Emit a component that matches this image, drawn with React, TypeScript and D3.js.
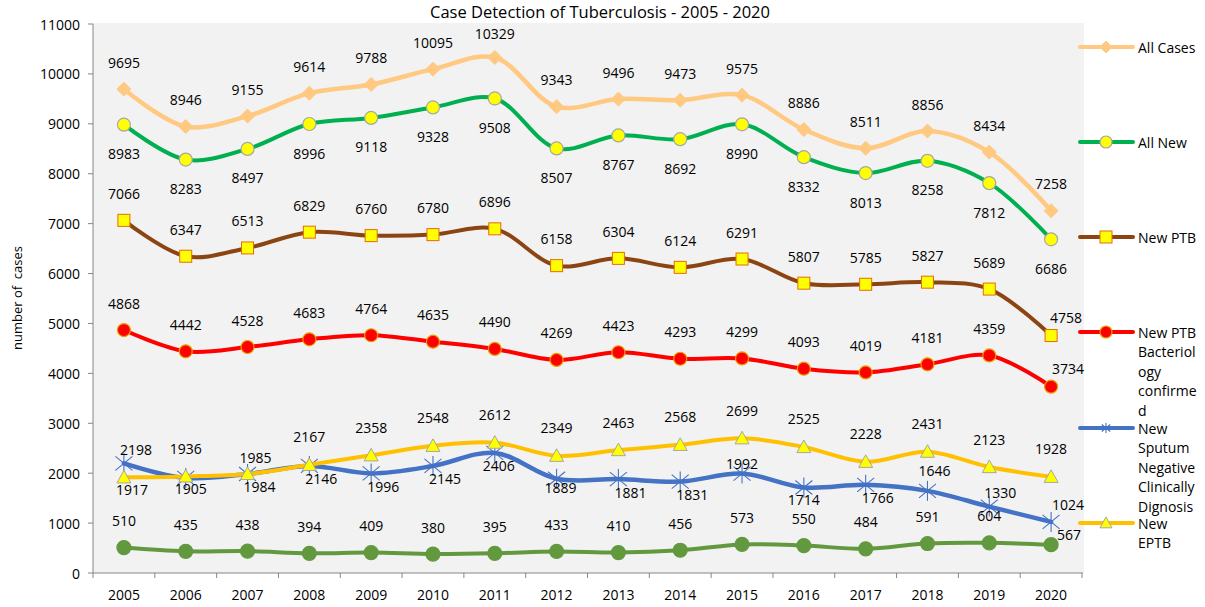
import React from 'react';
import * as d3 from 'd3';

const years = ['2005','2006','2007','2008','2009','2010','2011','2012','2013','2014','2015','2016','2017','2018','2019','2020'];
const allCases = [9695, 8946, 9155, 9614, 9788, 10095, 10329, 9343, 9496, 9473, 9575, 8886, 8511, 8856, 8434, 7258];
const allNew = [8983, 8283, 8497, 8996, 9118, 9328, 9508, 8507, 8767, 8692, 8990, 8332, 8013, 8258, 7812, 6686];
const newPTB = [7066, 6347, 6513, 6829, 6760, 6780, 6896, 6158, 6304, 6124, 6291, 5807, 5785, 5827, 5689, 4758];
const newPTBBact = [4868, 4442, 4528, 4683, 4764, 4635, 4490, 4269, 4423, 4293, 4299, 4093, 4019, 4181, 4359, 3734];
const newSputumNeg = [2198, 1905, 1984, 2146, 1996, 2145, 2406, 1889, 1881, 1831, 1992, 1714, 1766, 1646, 1330, 1024];
const newEPTB = [1917, 1936, 1985, 2167, 2358, 2548, 2612, 2349, 2463, 2568, 2699, 2525, 2228, 2431, 2123, 1928];
const other = [510, 435, 438, 394, 409, 380, 395, 433, 410, 456, 573, 550, 484, 591, 604, 567];
const yTicks = [0, 1000, 2000, 3000, 4000, 5000, 6000, 7000, 8000, 9000, 10000, 11000];

type Marker = 'diamond' | 'circle' | 'square' | 'star' | 'triangle' | 'none';
interface Series {
  name: string[];
  values: number[];
  color: string;
  width: number;
  marker: Marker;
  mFill: string;
  mStroke: string;
  mSize: number;
  lab: [number, number];
  labOver: Record<number, [number, number]>;
  legendY: number | null;
}

const series: Series[] = [
  { name: ['All Cases'], values: allCases, color: '#ffc982', width: 4.5, marker: 'diamond', mFill: '#ffc982', mStroke: '#ffc982', mSize: 7, lab: [0, -27], labOver: { 6: [0, -24] }, legendY: 47 },
  { name: ['All New'], values: allNew, color: '#00b050', width: 4, marker: 'circle', mFill: '#ffff00', mStroke: '#a6a6a6', mSize: 6.5, lab: [0, 29], labOver: {}, legendY: 142 },
  { name: ['New PTB'], values: newPTB, color: '#8b4513', width: 4, marker: 'square', mFill: '#ffff00', mStroke: '#e46c0a', mSize: 6, lab: [0, -27], labOver: { 15: [15, -18] }, legendY: 237 },
  { name: ['New PTB', 'Bacteriol', 'ogy', 'confirme', 'd'], values: newPTBBact, color: '#ff0000', width: 4, marker: 'circle', mFill: '#ff0000', mStroke: '#e6a100', mSize: 6.5, lab: [0, -27], labOver: { 15: [17, -18] }, legendY: 332 },
  { name: ['New', 'Sputum', 'Negative', 'Clinically', 'Dignosis'], values: newSputumNeg, color: '#4472c4', width: 4.5, marker: 'star', mFill: 'none', mStroke: '#4472c4', mSize: 10, lab: [12, 13], labOver: { 0: [12, -14], 1: [5, 11], 6: [4, 13], 7: [4, 9], 10: [0, -10], 11: [0, 12], 13: [7, -20], 14: [11, -14], 15: [17, -17] }, legendY: 428 },
  { name: ['New', 'EPTB'], values: newEPTB, color: '#ffc000', width: 4, marker: 'triangle', mFill: '#ffff00', mStroke: '#a6a6a6', mSize: 7, lab: [0, -28], labOver: { 0: [8, 12], 2: [8, -16] }, legendY: 523 },
  { name: [], values: other, color: '#62993e', width: 4, marker: 'circle', mFill: '#62993e', mStroke: '#62993e', mSize: 7, lab: [0, -27], labOver: { 15: [18, -10] }, legendY: null },
];

const FONT = '"Open Sans", Lato, sans-serif';
const left = 93, right = 1082, top = 24, bottom = 573;

function MarkerShape({ s, x, y }: { s: Series; x: number; y: number }) {
  const r = s.mSize;
  switch (s.marker) {
    case 'diamond':
      return <path d={`M${x},${y - r}L${x + r},${y}L${x},${y + r}L${x - r},${y}Z`} fill={s.mFill} stroke={s.mStroke} strokeWidth={1} />;
    case 'circle':
      return <circle cx={x} cy={y} r={r} fill={s.mFill} stroke={s.mStroke} strokeWidth={1.2} />;
    case 'square':
      return <rect x={x - r} y={y - r} width={2 * r} height={2 * r} fill={s.mFill} stroke={s.mStroke} strokeWidth={1} />;
    case 'triangle':
      return <path d={`M${x},${y - r}L${x + r},${y + r * 0.8}L${x - r},${y + r * 0.8}Z`} fill={s.mFill} stroke={s.mStroke} strokeWidth={1} />;
    case 'star':
      return (
        <g stroke={s.mStroke} strokeWidth={1.1} fill="none">
          <line x1={x} y1={y - r} x2={x} y2={y + r} />
          <line x1={x - r * 0.85} y1={y - r * 0.7} x2={x + r * 0.85} y2={y + r * 0.7} />
          <line x1={x - r * 0.85} y1={y + r * 0.7} x2={x + r * 0.85} y2={y - r * 0.7} />
        </g>
      );
    default:
      return null;
  }
}

export default function App() {
  const x = d3.scaleBand<string>().domain(years).range([left, right]).padding(0);
  const y = d3.scaleLinear().domain([0, 11000]).range([bottom, top]);
  const cx = (yr: string) => (x(yr) as number) + x.bandwidth() / 2;
  const line = d3.line<number>()
    .x((_, i) => cx(years[i]))
    .y((v) => y(v))
    .curve(d3.curveCatmullRom.alpha(0.5));

  const boundaries = d3.range(years.length + 1).map((i) => left + i * x.bandwidth());

  return (
    <div style={{ position: 'fixed', left: 0, top: 0 }}>
      <svg width={1205} height={607} style={{ display: 'block', background: '#ffffff' }} fontFamily={FONT}>
        <rect x={left} y={23} width={right - left + 2} height={bottom - 23} fill="#f2f2f2" />
        <text x={600} y={18} textAnchor="middle" fontSize={16.5} fill="#000">Case Detection of Tuberculosis - 2005 - 2020</text>
        <text transform={`translate(17,${298}) rotate(-90)`} textAnchor="middle" dominantBaseline="central" fontSize={13} fill="#000" style={{ whiteSpace: 'pre' }}>{'number of  cases'}</text>
        {/* y axis */}
        <line x1={left} y1={top} x2={left} y2={bottom} stroke="#868686" strokeWidth={1} />
        {yTicks.map((t) => (
          <g key={t}>
            <line x1={left - 5} x2={left} y1={y(t)} y2={y(t)} stroke="#868686" />
            <text x={80} y={y(t)} textAnchor="end" dominantBaseline="central" fontSize={14} fill="#000">{t}</text>
          </g>
        ))}
        {/* x axis */}
        <line x1={left} y1={bottom} x2={right + 1} y2={bottom} stroke="#868686" strokeWidth={1} />
        {boundaries.map((b, i) => (
          <line key={i} x1={b} x2={b} y1={bottom} y2={bottom + 5} stroke="#868686" />
        ))}
        {years.map((yr) => (
          <text key={yr} x={cx(yr)} y={594} textAnchor="middle" dominantBaseline="central" fontSize={14} fill="#000">{yr}</text>
        ))}
        {/* series */}
        {series.map((s, si) => (
          <g key={si}>
            <path d={line(s.values) || ''} fill="none" stroke={s.color} strokeWidth={s.width} strokeLinejoin="round" strokeLinecap="round" />
            {s.values.map((v, i) => (
              <MarkerShape key={i} s={s} x={cx(years[i])} y={y(v)} />
            ))}
          </g>
        ))}
        {/* labels */}
        {series.map((s, si) => (
          <g key={'l' + si}>
            {s.values.map((v, i) => {
              const off = s.labOver[i] || s.lab;
              return (
                <text key={i} x={cx(years[i]) + off[0]} y={y(v) + off[1]} textAnchor="middle" dominantBaseline="central" fontSize={14} fill="#000">{v}</text>
              );
            })}
          </g>
        ))}
        {/* legend */}
        {series.filter((s) => s.legendY !== null).map((s, si) => (
          <g key={'lg' + si}>
            <line x1={1080} x2={1133} y1={s.legendY as number} y2={s.legendY as number} stroke={s.color} strokeWidth={4} strokeLinecap="round" />
            <MarkerShape s={{ ...s, mSize: s.marker === 'star' ? 5 : Math.min(s.mSize, 6) }} x={1106} y={s.legendY as number} />
            {s.name.map((n, k) => (
              <text key={k} x={1138} y={(s.legendY as number) + k * 19.5} dominantBaseline="central" fontSize={14} fill="#000">{n}</text>
            ))}
          </g>
        ))}
      </svg>
    </div>
  );
}
